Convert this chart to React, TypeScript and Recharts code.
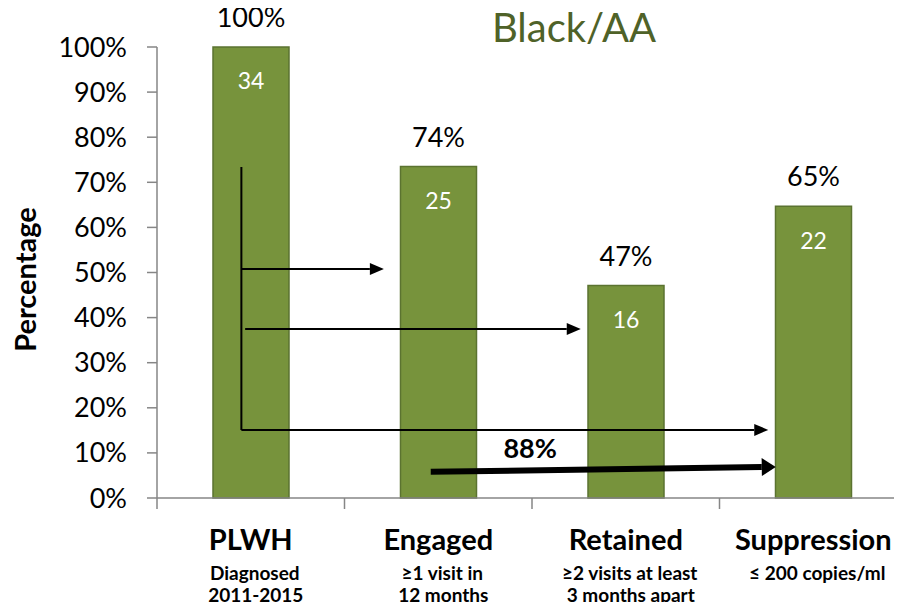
import React from "react";
import {
  BarChart,
  Bar,
  XAxis,
  YAxis,
  LabelList,
  ReferenceLine,
  ReferenceDot,
} from "recharts";

const categories = ["PLWH", "Engaged", "Retained", "Suppression"];
const subLine1 = ["Diagnosed", "\u22651 visit in", "\u22652 visits at least", "\u2264 200 copies/ml"];
const subLine2 = ["2011-2015", "12 months", "3 months apart", ""];
const percentValues = [100, 73.5, 47.1, 64.7];
const percentLabels = ["100%", "74%", "47%", "65%"];
const counts = [34, 25, 16, 22];
const yTicks = [0, 10, 20, 30, 40, 50, 60, 70, 80, 90, 100];

// annotation arrows, x in category units (0..4), y in %
const thinArrows = [
  { x1: 0.45, y1: 50.8, x2: 1.21, y2: 50.8 },
  { x1: 0.47, y1: 37.5, x2: 2.26, y2: 37.5 },
  { x1: 0.45, y1: 15.1, x2: 3.26, y2: 15.1 },
];
const bracket = { x: 0.45, yTop: 73.4, yBottom: 15.1 };
const thickArrow = { x1: 1.46, y1: 5.8, x2: 3.3, y2: 6.9 };
const gainLabel = { x: 1.99, y: 11.0, text: "88%" };

const data = categories.map((name, i) => ({
  name,
  pct: percentValues[i],
  label: percentLabels[i],
  count: counts[i],
}));

const W = 910;
const H = 610;
const LEFT = 157;
const RIGHT = 3;
const band = (W - LEFT - RIGHT) / categories.length;
const axisColor = "#868686";
const font = "Lato, 'Open Sans', sans-serif";

const CategoryTick = (props: any) => {
  const { x, y, index } = props;
  return (
    <g>
      <line x1={x - band / 2} y1={y} x2={x - band / 2} y2={y + 11} stroke={axisColor} strokeWidth={1.5} />
      <text x={x} y={y + 52} textAnchor="middle" fontFamily={font} fontWeight={700} fontSize={29} fill="#000">
        {categories[index]}
      </text>
      <text x={x + 4} y={y + 82} textAnchor="middle" fontFamily={font} fontWeight={700} fontSize={19} fill="#000">
        {subLine1[index]}
      </text>
      <text x={x + 5} y={y + 104} textAnchor="middle" fontFamily={font} fontWeight={700} fontSize={19} fill="#000">
        {subLine2[index]}
      </text>
    </g>
  );
};

const YTitle = (props: any) => {
  const { viewBox } = props;
  const cx = viewBox.x + 24;
  const cy = viewBox.y + viewBox.height / 2 + 7;
  return (
    <text
      x={cx}
      y={cy}
      transform={`rotate(-90 ${cx} ${cy})`}
      textAnchor="middle"
      dominantBaseline="central"
      fontFamily={font}
      fontWeight={700}
      fontSize={29}
      fill="#000"
    >
      Percentage
    </text>
  );
};

const arrowShape = (width: number, headLen: number, headW: number) => (props: any) => {
  const { x1, y1, x2, y2 } = props;
  const a = Math.atan2(y2 - y1, x2 - x1);
  const bx = x2 - headLen * Math.cos(a);
  const by = y2 - headLen * Math.sin(a);
  const px = (headW / 2) * Math.sin(a);
  const py = (headW / 2) * Math.cos(a);
  return (
    <g>
      <line x1={x1} y1={y1} x2={bx} y2={by} stroke="#000" strokeWidth={width} />
      <polygon points={`${x2},${y2} ${bx + px},${by - py} ${bx - px},${by + py}`} fill="#000" />
    </g>
  );
};

export default function App() {
  return (
    <div style={{ position: "relative", width: 902, height: 610, margin: -8, overflow: "hidden", background: "#fff" }}>
      <div
        style={{
          position: "absolute",
          left: 474,
          top: 4,
          width: 200,
          textAlign: "center",
          fontFamily: font,
          fontSize: 40,
          lineHeight: "46px",
          color: "#4F6228",
        }}
      >
        Black/AA
      </div>
      <BarChart width={W} height={H} data={data} margin={{ top: 47, right: RIGHT, left: 0, bottom: 0 }}>
        <XAxis
          dataKey="name"
          height={112}
          axisLine={{ stroke: axisColor, strokeWidth: 1.5 }}
          tickLine={false}
          tickSize={0}
          tickMargin={0}
          interval={0}
          tick={<CategoryTick />}
        />
        <XAxis xAxisId="n" type="number" dataKey={() => 0} domain={[0, 4]} hide allowDataOverflow />
        <YAxis
          width={LEFT}
          domain={[0, 100]}
          ticks={yTicks}
          interval={0}
          tickFormatter={(v: number) => `${v}%`}
          axisLine={{ stroke: axisColor, strokeWidth: 1.5 }}
          tickLine={{ stroke: axisColor, strokeWidth: 1.5 }}
          tickSize={10}
          tickMargin={20}
          tick={{ fill: "#000", fontSize: 27, fontFamily: font }}
          label={<YTitle />}
        />
        <Bar dataKey="pct" barSize={76} fill="#77933C" stroke="#5B7330" strokeWidth={1.5} isAnimationActive={false}>
          <LabelList dataKey="label" position="top" offset={20} fill="#000" fontSize={27} fontFamily={font} />
          <LabelList dataKey="count" position="insideTop" offset={26} fill="#fff" fontSize={23} fontFamily={font} />
        </Bar>
        <ReferenceLine
          xAxisId="n"
          ifOverflow="visible"
          segment={[
            { x: bracket.x, y: bracket.yTop },
            { x: bracket.x, y: bracket.yBottom },
          ]}
          stroke="#000"
          strokeWidth={2}
        />
        {thinArrows.map((a, i) => (
          <ReferenceLine
            key={i}
            xAxisId="n"
            ifOverflow="visible"
            segment={[
              { x: a.x1, y: a.y1 },
              { x: a.x2, y: a.y2 },
            ]}
            shape={arrowShape(2, 14, 12)}
          />
        ))}
        <ReferenceLine
          xAxisId="n"
          ifOverflow="visible"
          segment={[
            { x: thickArrow.x1, y: thickArrow.y1 },
            { x: thickArrow.x2, y: thickArrow.y2 },
          ]}
          shape={arrowShape(6, 14, 18)}
        />
        <ReferenceDot
          xAxisId="n"
          ifOverflow="visible"
          x={gainLabel.x}
          y={gainLabel.y}
          r={0}
          fill="none"
          stroke="none"
          label={{ value: gainLabel.text, position: "center", fontSize: 27, fontWeight: 700, fontFamily: font, fill: "#000" }}
        />
      </BarChart>
    </div>
  );
}
